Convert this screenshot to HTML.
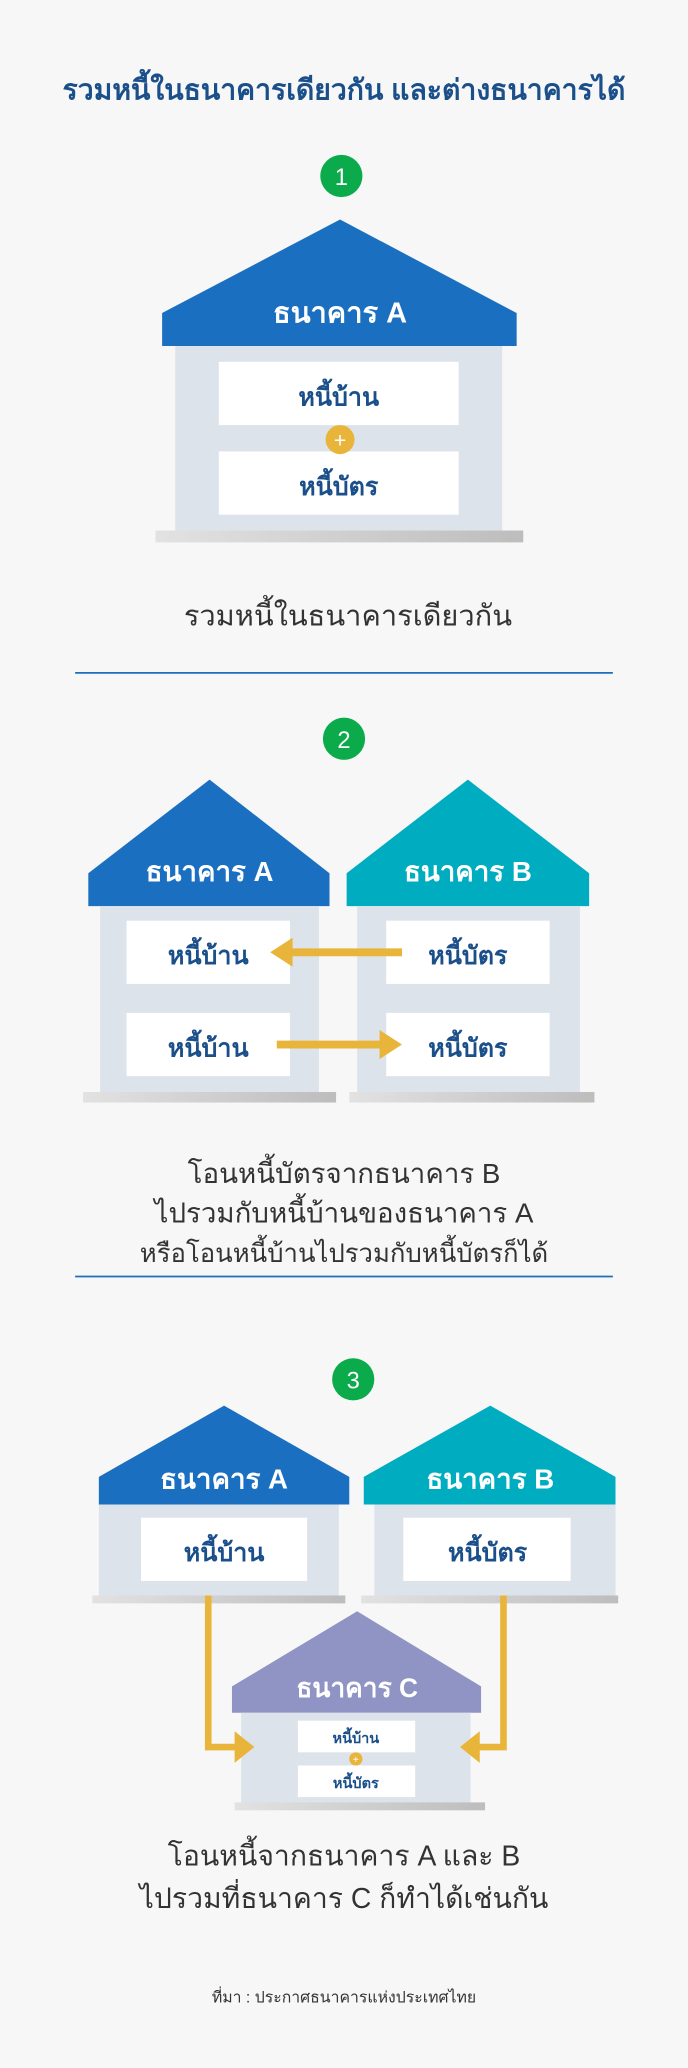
<!DOCTYPE html>
<html><head><meta charset="utf-8"><style>
html,body{margin:0;padding:0;background:#f7f7f7;}
svg{display:block;}
text{font-family:"Liberation Sans","Noto Sans CJK SC","WenQuanYi Zen Hei",sans-serif;}
</style></head><body>
<svg width="688" height="2068" viewBox="0 0 522 1568" xmlns="http://www.w3.org/2000/svg">
<defs>
<linearGradient id="bs" x1="0" x2="1"><stop offset="0" stop-color="#e2e2e2"/><stop offset="1" stop-color="#bdbdbd"/></linearGradient>
</defs>
<rect width="522" height="1568" fill="#f7f7f7"/>
<text x="261" y="75" text-anchor="middle" font-size="21.5" font-weight="bold" fill="#1a4f8a">รวมหนี้ในธนาคารเดียวกัน และต่างธนาคารได้</text>

<!-- Section 1 -->
<circle cx="259" cy="133" r="16" fill="#0bab4b"/>
<text x="259" y="140" text-anchor="middle" font-size="18" fill="#fff">1</text>
<polygon points="123,237 258,166 392,237 392,262 123,262" fill="#1a6fc0"/>
<text x="258" y="244" text-anchor="middle" font-size="22" font-weight="bold" fill="#fff">ธนาคาร A</text>
<rect x="133" y="262" width="248" height="140" fill="#dde3ea"/>
<rect x="166" y="274" width="182" height="48" fill="#fff"/>
<rect x="166" y="342" width="182" height="48" fill="#fff"/>
<text x="257" y="307" text-anchor="middle" font-size="19" font-weight="bold" fill="#1a4f8a">หนี้บ้าน</text>
<text x="257" y="375" text-anchor="middle" font-size="19" font-weight="bold" fill="#1a4f8a">หนี้บัตร</text>
<circle cx="258" cy="333" r="11" fill="#e8b43a"/>
<text x="258" y="339" text-anchor="middle" font-size="16" fill="#fff">+</text>
<rect x="118" y="402" width="279" height="9" fill="url(#bs)"/>
<text x="264" y="474" text-anchor="middle" font-size="22" fill="#333">รวมหนี้ในธนาคารเดียวกัน</text>
<line x1="57" y1="510" x2="465" y2="510" stroke="#1a6fc0" stroke-width="1.3"/>

<!-- Section 2 -->
<circle cx="261" cy="560" r="16" fill="#0bab4b"/>
<text x="261" y="567" text-anchor="middle" font-size="18" fill="#fff">2</text>
<polygon points="67,662 159,591 250,662 250,687 67,687" fill="#1a6fc0"/>
<text x="159" y="668" text-anchor="middle" font-size="21" font-weight="bold" fill="#fff">ธนาคาร A</text>
<rect x="76" y="687" width="166" height="141" fill="#dde3ea"/>
<rect x="96" y="698" width="124" height="48" fill="#fff"/>
<rect x="96" y="768" width="124" height="48" fill="#fff"/>
<text x="158" y="731" text-anchor="middle" font-size="19" font-weight="bold" fill="#1a4f8a">หนี้บ้าน</text>
<text x="158" y="801" text-anchor="middle" font-size="19" font-weight="bold" fill="#1a4f8a">หนี้บ้าน</text>
<rect x="63" y="828" width="192" height="8" fill="url(#bs)"/>

<polygon points="263,662 355,591 447,662 447,687 263,687" fill="#00adc0"/>
<text x="355" y="668" text-anchor="middle" font-size="21" font-weight="bold" fill="#fff">ธนาคาร B</text>
<rect x="271" y="687" width="169" height="141" fill="#dde3ea"/>
<rect x="293" y="698" width="124" height="48" fill="#fff"/>
<rect x="293" y="768" width="124" height="48" fill="#fff"/>
<text x="355" y="731" text-anchor="middle" font-size="19" font-weight="bold" fill="#1a4f8a">หนี้บัตร</text>
<text x="355" y="801" text-anchor="middle" font-size="19" font-weight="bold" fill="#1a4f8a">หนี้บัตร</text>
<rect x="265" y="828" width="186" height="8" fill="url(#bs)"/>

<line x1="305" y1="722" x2="220" y2="722" stroke="#e8b43a" stroke-width="6"/>
<polygon points="205,722 222,711 222,733" fill="#e8b43a"/>
<line x1="210" y1="792" x2="290" y2="792" stroke="#e8b43a" stroke-width="6"/>
<polygon points="305,792 288,781 288,803" fill="#e8b43a"/>

<text x="261" y="897" text-anchor="middle" font-size="21" fill="#333">โอนหนี้บัตรจากธนาคาร B</text>
<text x="261" y="927" text-anchor="middle" font-size="21" fill="#333">ไปรวมกับหนี้บ้านของธนาคาร A</text>
<text x="261" y="957" text-anchor="middle" font-size="19.5" fill="#333">หรือโอนหนี้บ้านไปรวมกับหนี้บัตรก็ได้</text>
<line x1="57" y1="968" x2="465" y2="968" stroke="#1a6fc0" stroke-width="1.3"/>

<!-- Section 3 -->
<circle cx="268" cy="1046" r="16" fill="#0bab4b"/>
<text x="268" y="1053" text-anchor="middle" font-size="18" fill="#fff">3</text>
<polygon points="75,1120 170,1066 265,1120 265,1141 75,1141" fill="#1a6fc0"/>
<text x="170" y="1129" text-anchor="middle" font-size="21" font-weight="bold" fill="#fff">ธนาคาร A</text>
<rect x="75" y="1141" width="182" height="69" fill="#dde3ea"/>
<rect x="107" y="1151" width="126" height="48" fill="#fff"/>
<text x="170" y="1184" text-anchor="middle" font-size="19" font-weight="bold" fill="#1a4f8a">หนี้บ้าน</text>
<rect x="70" y="1210" width="192" height="6" fill="url(#bs)"/>

<polygon points="276,1120 372,1066 467,1120 467,1141 276,1141" fill="#00adc0"/>
<text x="372" y="1129" text-anchor="middle" font-size="21" font-weight="bold" fill="#fff">ธนาคาร B</text>
<rect x="284" y="1141" width="183" height="69" fill="#dde3ea"/>
<rect x="306" y="1151" width="127" height="48" fill="#fff"/>
<text x="370" y="1184" text-anchor="middle" font-size="19" font-weight="bold" fill="#1a4f8a">หนี้บัตร</text>
<rect x="274" y="1210" width="195" height="6" fill="url(#bs)"/>

<polygon points="176,1279 271,1222 365,1279 365,1299 176,1299" fill="#8f94c4"/>
<text x="271" y="1287" text-anchor="middle" font-size="20" font-weight="bold" fill="#fff">ธนาคาร C</text>
<rect x="183" y="1299" width="174" height="69" fill="#dde3ea"/>
<rect x="226" y="1305" width="89" height="24" fill="#fff"/>
<rect x="226" y="1339" width="89" height="24" fill="#fff"/>
<text x="270" y="1322" text-anchor="middle" font-size="11" font-weight="bold" fill="#1a4f8a">หนี้บ้าน</text>
<text x="270" y="1356" text-anchor="middle" font-size="11" font-weight="bold" fill="#1a4f8a">หนี้บัตร</text>
<circle cx="270" cy="1334" r="5" fill="#e8b43a"/>
<text x="270" y="1337" text-anchor="middle" font-size="8" fill="#fff">+</text>
<rect x="178" y="1367" width="190" height="6" fill="url(#bs)"/>

<polyline points="158,1210 158,1325 180,1325" fill="none" stroke="#e8b43a" stroke-width="5"/>
<polygon points="193,1325 178,1313 178,1337" fill="#e8b43a"/>
<polyline points="382,1210 382,1325 362,1325" fill="none" stroke="#e8b43a" stroke-width="5"/>
<polygon points="349,1325 364,1313 364,1337" fill="#e8b43a"/>

<text x="261" y="1415" text-anchor="middle" font-size="21.5" fill="#333">โอนหนี้จากธนาคาร A และ B</text>
<text x="261" y="1447" text-anchor="middle" font-size="21.5" fill="#333">ไปรวมที่ธนาคาร C ก็ทำได้เช่นกัน</text>
<text x="261" y="1519" text-anchor="middle" font-size="12" fill="#333">ที่มา : ประกาศธนาคารแห่งประเทศไทย</text>
</svg>
</body></html>
